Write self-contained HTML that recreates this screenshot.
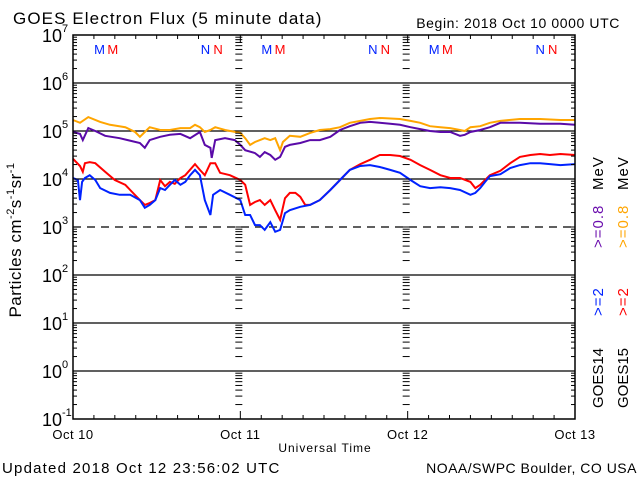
<!DOCTYPE html>
<html><head><meta charset="utf-8"><style>
html,body{margin:0;padding:0;background:#fff;}
svg{display:block;font-family:"Liberation Sans",sans-serif;}
</style></head><body>
<svg id="chart" width="640" height="480" viewBox="0 0 640 480">
<rect x="0" y="0" width="640" height="480" fill="#fff"/>
<text x="13" y="24" font-size="17" letter-spacing="1.1">GOES Electron Flux (5 minute data)</text>
<text x="620" y="28" font-size="14" letter-spacing="0.6" text-anchor="end">Begin: 2018 Oct 10 0000 UTC</text>
<g id="grid"></g>
<g id="series"></g>
<g id="axes"></g>
<text x="325" y="452" font-size="12" letter-spacing="1" text-anchor="middle">Universal Time</text>
<text transform="translate(21,240) rotate(-90)" font-size="17" letter-spacing="0.5" text-anchor="middle">Particles cm<tspan dy="-7" font-size="11">-2</tspan><tspan dy="7">s</tspan><tspan dy="-7" font-size="11">-1</tspan><tspan dy="7">sr</tspan><tspan dy="-7" font-size="11">-1</tspan></text>
<text x="2" y="473" font-size="15" letter-spacing="1.2">Updated 2018 Oct 12 23:56:02 UTC</text>
<text x="637" y="473" font-size="14" letter-spacing="0.5" text-anchor="end">NOAA/SWPC Boulder, CO USA</text>
<g font-size="15">
<text transform="translate(603,408) rotate(-90)">GOES14</text>
<text transform="translate(603,316) rotate(-90)" fill="#0022ff" letter-spacing="1">&gt;=2</text>
<text transform="translate(603,248) rotate(-90)" fill="#6a0dad" letter-spacing="1">&gt;=0.8</text>
<text transform="translate(603,190) rotate(-90)" letter-spacing="1">MeV</text>
<text transform="translate(628,408) rotate(-90)">GOES15</text>
<text transform="translate(628,316) rotate(-90)" fill="#ff0000" letter-spacing="1">&gt;=2</text>
<text transform="translate(628,248) rotate(-90)" fill="#ffa500" letter-spacing="1">&gt;=0.8</text>
<text transform="translate(628,190) rotate(-90)" letter-spacing="1">MeV</text>
</g>
</svg>
<script>
const dayLabels = ["Oct 10","Oct 11","Oct 12","Oct 13"];
const decadeExps = [7,6,5,4,3,2,1,0,-1];
const satMarkers = [["M",3.8,"#0022ff"],["M",5.7,"#ff0000"],["N",19.0,"#0022ff"],["N",20.8,"#ff0000"]];
const g15HiT = [0,1.0,1.4,1.7,2.4,3.2,4.6,6.0,7.5,8.2,9.6,10.3,11.0,11.8,12.5,13.2,13.9,14.6,15.4,16.1,17.5,18.2,18.9,19.7,20.4,21.1,22.5,24.0,24.7,25.4,26.1,26.8,27.5,28.3,29.0,29.7,30.4,31.1,31.9,32.6,33.3,34.0,35.4,36.9,38.3,39.7,41.2,42.6,44.0,45.5,46.9,48.4,49.8,51.2,52.7,54.1,55.5,57.0,57.7,58.4,59.1,59.8,61.3,62.7,64.1,65.6,67.0,68.4,69.9,72];
const g15HiLog = [4.42,4.27,4.15,4.33,4.35,4.33,4.15,3.98,3.88,3.77,3.56,3.46,3.50,3.56,3.98,3.85,3.94,3.90,4.02,4.08,4.31,4.19,4.08,4.33,4.33,4.13,4.08,3.98,3.88,3.46,3.52,3.56,3.46,3.56,3.35,3.15,3.60,3.71,3.71,3.63,3.46,3.46,3.56,3.77,3.98,4.19,4.31,4.40,4.50,4.50,4.48,4.40,4.29,4.19,4.08,4.02,4.02,3.94,3.81,3.88,3.98,4.08,4.17,4.33,4.46,4.50,4.52,4.50,4.52,4.50];
const g14HiT = [0,0.7,1.0,1.3,1.7,2.4,3.2,3.9,5.3,6.7,8.2,9.6,10.3,11.0,11.8,12.5,13.2,13.9,14.6,15.4,16.1,16.8,17.5,18.2,18.9,19.7,20.1,21.1,22.5,24.0,24.7,25.4,26.1,26.8,27.5,28.3,29.0,29.7,30.4,31.1,32.6,34.0,35.4,36.9,38.3,39.7,41.2,42.6,44.0,45.5,46.9,48.4,49.8,51.2,52.7,54.1,55.5,57.0,57.7,58.4,59.1,59.8,61.3,62.7,64.1,65.6,67.0,68.4,69.9,72];
const g14HiLog = [4.02,3.98,3.56,3.94,4.02,4.08,3.98,3.81,3.71,3.67,3.67,3.56,3.40,3.46,3.56,3.81,3.77,3.88,3.98,3.88,3.94,4.08,4.19,4.08,3.56,3.25,3.67,3.77,3.67,3.56,3.25,3.25,3.04,3.04,2.94,3.10,2.90,2.94,3.29,3.35,3.42,3.46,3.56,3.77,3.98,4.19,4.27,4.29,4.25,4.19,4.13,3.98,3.85,3.81,3.83,3.81,3.77,3.67,3.71,3.81,3.94,4.06,4.10,4.23,4.29,4.33,4.33,4.31,4.29,4.31];
const g14LoT = [0,1.0,1.4,2.2,3.2,4.6,6.7,9.6,10.3,11.0,12.5,13.9,15.4,16.8,18.2,18.9,19.7,19.9,20.4,21.8,23.2,24.0,24.7,26.1,26.8,27.5,28.3,29.0,29.7,30.4,31.1,32.6,34.0,35.4,36.9,38.3,39.7,41.2,42.6,44.0,45.5,46.9,48.4,49.8,51.2,52.7,54.1,55.5,56.2,57.0,58.4,59.8,61.3,64.1,67.0,69.9,72];
const g14LoLog = [4.98,4.94,4.81,5.06,5.00,4.90,4.85,4.75,4.65,4.81,4.88,4.92,4.94,4.85,4.98,4.71,4.65,4.44,4.81,4.85,4.81,4.71,4.60,4.54,4.46,4.56,4.50,4.40,4.46,4.67,4.71,4.75,4.81,4.81,4.88,5.02,5.10,5.17,5.19,5.17,5.15,5.13,5.08,5.04,5.00,4.98,4.98,4.90,4.92,4.98,5.02,5.08,5.17,5.17,5.15,5.15,5.13];
const g15LoT = [0,1.0,2.2,3.9,5.3,7.5,8.9,9.6,10.3,11.0,12.5,13.9,15.4,16.8,17.5,18.2,18.9,19.7,20.4,21.8,24.0,24.7,25.4,26.1,26.8,27.5,28.3,29.0,29.7,30.1,31.1,32.6,34.0,35.4,36.9,38.3,39.7,41.2,42.6,44.0,46.9,48.4,49.8,51.2,52.7,54.1,55.5,56.2,57.0,58.4,59.8,61.3,64.1,67.0,69.9,72];
const g15LoLog = [5.23,5.17,5.29,5.19,5.13,5.08,4.98,4.88,4.98,5.08,5.02,5.02,5.06,5.06,5.13,5.08,4.98,5.02,5.08,5.02,4.96,4.85,4.71,4.77,4.81,4.85,4.81,4.85,4.60,4.77,4.90,4.88,4.96,5.02,5.04,5.08,5.17,5.21,5.25,5.27,5.25,5.21,5.17,5.10,5.08,5.06,5.02,5.00,5.08,5.10,5.17,5.21,5.25,5.25,5.23,5.23];

const NS="http://www.w3.org/2000/svg";
const X0=73,X1=575,Y0=35,Y1=419,HOURS=72;
const xs=h=>X0+(X1-X0)*h/HOURS;
const ys=l=>Y0+(7-l)*(Y1-Y0)/8;
function mk(tag,attrs,parent){const e=document.createElementNS(NS,tag);for(const k in attrs)e.setAttribute(k,attrs[k]);parent.appendChild(e);return e;}
const grid=document.getElementById('grid'),axes=document.getElementById('axes'),ser=document.getElementById('series');

decadeExps.forEach(p=>{
  if(p===7||p===-1)return;
  const l=mk('line',{x1:X0,x2:X1,y1:ys(p),y2:ys(p),stroke:'#000','stroke-width':1.3},grid);
  if(p===3)l.setAttribute('stroke-dasharray','8,6');
  
  
});
[0,24,48,72].forEach(h=>{
  const x=xs(h);
  for(let p=-1;p<7;p++){
    for(let m=1;m<10;m++){
      const y=ys(p+Math.log10(m));
      const len=m===1?8:4;
      if(h===0){mk('line',{x1:x,x2:x+len,y1:y,y2:y,stroke:'#000','stroke-width':1},axes);}
      else if(h===72){mk('line',{x1:x-len,x2:x,y1:y,y2:y,stroke:'#000','stroke-width':1},axes);}
      else{mk('line',{x1:x-5,x2:x+2,y1:y,y2:y,stroke:'#000','stroke-width':1},axes);}
    }
  }
});
for(let h=0;h<=72;h+=3){
  const x=xs(h);const len=h%24===0?8:4;
  mk('line',{x1:x,x2:x,y1:Y1,y2:Y1-len,stroke:'#000'},axes);
  mk('line',{x1:x,x2:x,y1:Y0,y2:Y0+len,stroke:'#000'},axes);
}
const frame=mk('rect',{x:X0,y:Y0,width:X1-X0,height:Y1-Y0,fill:'none',stroke:'#000','stroke-width':1.5},axes);


decadeExps.forEach(p=>{
  const t=mk('text',{x:62,y:ys(p)+7,'font-size':18,'text-anchor':'end'},axes);
  t.textContent='10';
  
  
  const s=mk('text',{x:62,y:ys(p)-3,'font-size':11,'text-anchor':'start'},axes);
  s.textContent=String(p);
  
  
});
dayLabels.forEach((d,i)=>{
  const t=mk('text',{x:xs(i*24),y:439,'font-size':13,'letter-spacing':0.5,'text-anchor':'middle'},axes);
  t.textContent=d;
  
  
});
for(let d=0;d<3;d++){
  satMarkers.forEach((m,i)=>{
    const t=mk('text',{x:xs(d*24+m[1]),y:54,'font-size':13,'text-anchor':'middle',fill:m[2]},axes);
    t.textContent=m[0];
    
    
  });
}
function series(T,L,color,name){
  const pts=[];const n=Math.min(T.length,L.length);
  for(let i=0;i<n;i++)pts.push(xs(T[i]).toFixed(1)+','+ys(L[i]).toFixed(1));
  const p=mk('polyline',{points:pts.join(' '),fill:'none',stroke:color,'stroke-width':2,'stroke-linejoin':'miter'},ser);
  
  
}
series(g15LoT,g15LoLog,'#ffa500','goes15-0.8mev-line');
series(g14LoT,g14LoLog,'#5a0aa8','goes14-0.8mev-line');
series(g15HiT,g15HiLog,'#ff0000','goes15-2mev-line');
series(g14HiT,g14HiLog,'#0022ff','goes14-2mev-line');
</script>
</body></html>
